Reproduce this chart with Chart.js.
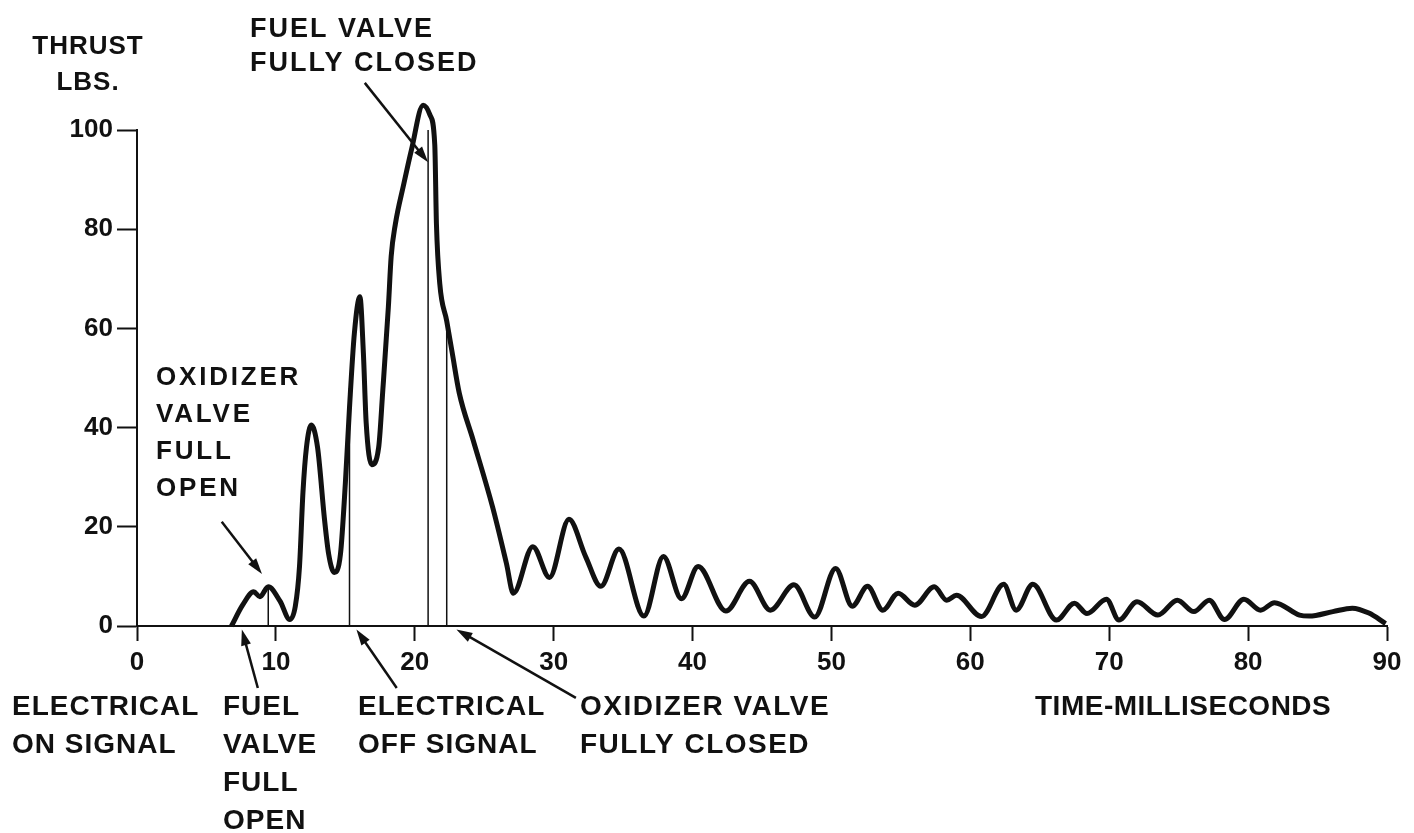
<!DOCTYPE html>
<html>
<head>
<meta charset="utf-8">
<script src="https://cdn.jsdelivr.net/npm/chart.js@4/dist/chart.umd.min.js"></script>
<style>
	body { margin: 0; background: #fff; }
	canvas { display: block; }
</style>
</head>
<body>
<canvas id="thrustChart" width="1414" height="833"></canvas>
<script>
// time (ms)
const times = [
	6.8, 7.6, 8.4, 8.85, 9.45, 10.3, 11.0, 11.4, 11.7, 11.95, 12.2, 12.55, 13.0, 13.5, 13.8, 14.2,
	14.65, 15.0, 15.3, 15.65, 16.05, 16.3, 16.5, 16.9, 17.4, 17.7, 18.1, 18.3, 18.6, 19.2, 19.76,
	20.6, 21.1, 21.44, 21.56, 21.8, 22.3, 22.7, 23.2, 24.2, 25.6, 26.6, 27.1, 28.5, 29.7, 31.1, 32.3,
	33.4, 34.7, 36.5, 37.9, 39.2, 40.4, 42.4, 44.1, 45.6, 47.3, 48.8, 50.3, 51.5, 52.6, 53.7,
	54.8, 56.0, 57.4, 58.3, 59.0, 60.8, 62.4, 63.3, 64.5, 66.2, 67.5, 68.4, 69.8, 70.7, 72.0,
	73.5, 74.9, 76.1, 77.2, 78.3, 79.7, 80.9, 81.9, 83.7, 84.4, 86.1, 87.5, 88.7, 89.9,
];
// thrust (lbs)
const thrust = [
	0, 4.2, 6.9, 5.9, 7.9, 5.0, 1.3, 4, 12, 27, 36, 40.5, 36, 21.5, 14.5, 10.8,
	14.5, 28.7, 44, 59, 66.4, 55, 41, 32.5, 36, 47.6, 64.4, 74.5, 81, 89, 96,
	105, 103, 97, 81, 69, 61.5, 55, 47, 37.5, 24, 12.6, 6.6, 16, 9.8, 21.5, 14,
	8, 15.5, 2, 14, 5.5, 12, 3, 9, 3.2, 8.3, 1.8, 11.6, 4, 8, 3.2,
	6.6, 4.2, 7.9, 5.2, 6.2, 1.9, 8.4, 3.2, 8.4, 1.2, 4.6, 2.5, 5.4, 1.2, 4.9,
	2.2, 5.2, 2.9, 5.2, 1.3, 5.4, 3.2, 4.7, 2.2, 2.0, 2.9, 3.6, 2.6, 0.5,
];
// event lines (ms) and where they meet the curve
const markerTimes = [9.45, 15.3, 20.96, 22.3];
const markerTops = [7.9, 48, 100, 61.5];

// arrows: [tail t, tail v, tip t, tip v]
const arrows = [
	[6.1, 21, 9.0, 10.5],
	[16.4, 109.5, 20.96, 93.5],
	[8.7, -12.5, 7.55, -0.7],
	[18.7, -12.5, 15.8, -0.7],
	[31.6, -14.5, 23.0, -0.7],
];

// text blocks: lines, x, first line y, line step, size, letter spacing
const labels = [
	{ lines: ["THRUST", "LBS."], x: 88, y: 47, step: 36, size: 26, align: "center", spacing: 1 },
	{ lines: ["FUEL VALVE", "FULLY CLOSED"], x: 250, y: 30, step: 34, size: 27, align: "left", spacing: 2 },
	{ lines: ["OXIDIZER", "VALVE", "FULL", "OPEN"], x: 156, y: 378, step: 37, size: 26, align: "left", spacing: 2.8 },
	{ lines: ["ELECTRICAL", "ON SIGNAL"], x: 12, y: 707, step: 38, size: 28, align: "left", spacing: 1 },
	{ lines: ["FUEL", "VALVE", "FULL", "OPEN"], x: 223, y: 707, step: 38, size: 28, align: "left", spacing: 1 },
	{ lines: ["ELECTRICAL", "OFF SIGNAL"], x: 358, y: 707, step: 38, size: 28, align: "left", spacing: 1 },
	{ lines: ["OXIDIZER VALVE", "FULLY CLOSED"], x: 580, y: 707, step: 38, size: 28, align: "left", spacing: 1.5 },
	{ lines: ["TIME-MILLISECONDS"], x: 1035, y: 707, step: 38, size: 28, align: "left", spacing: 0.5 },
];

const ink = "#111";
const fontFamily = '"Liberation Sans", Arial, sans-serif';

// arrows and labels
const notesPlugin = {
	id: "notes",
	afterDraw(chart) {
		const ctx = chart.ctx;
		const xs = chart.scales.x;
		const ys = chart.scales.y;
		ctx.save();
		ctx.strokeStyle = ink;
		ctx.fillStyle = ink;
		ctx.lineWidth = 2.5;
		arrows.forEach((a) => {
			let x1 = xs.getPixelForValue(a[0]);
			let y1 = ys.getPixelForValue(a[1]);
			let x2 = xs.getPixelForValue(a[2]);
			let y2 = ys.getPixelForValue(a[3]);
			let ang = Math.atan2(y2 - y1, x2 - x1);
			let c = Math.cos(ang);
			let s = Math.sin(ang);
			ctx.beginPath();
			ctx.moveTo(x1, y1);
			ctx.lineTo(x2 - 10 * c, y2 - 10 * s);
			ctx.stroke();
			ctx.beginPath();
			ctx.moveTo(x2, y2);
			ctx.lineTo(x2 - 16 * c + 5 * s, y2 - 16 * s - 5 * c);
			ctx.lineTo(x2 - 16 * c - 5 * s, y2 - 16 * s + 5 * c);
			ctx.closePath();
			ctx.fill();
		});
		ctx.textBaseline = "middle";
		labels.forEach((l) => {
			ctx.font = "bold " + l.size + "px " + fontFamily;
			ctx.textAlign = l.align;
			ctx.letterSpacing = l.spacing + "px";
			l.lines.forEach((line, i) => {
				ctx.fillText(line, l.x, l.y + i * l.step);
			});
		});
		ctx.restore();
	},
};

function buildDatasets() {
	let sets = [
		{
			data: times.map((t, i) => ({ x: t, y: thrust[i] })),
			borderColor: ink,
			borderWidth: 5,
			pointRadius: 0,
			cubicInterpolationMode: "monotone",
			clip: false,
		},
	];
	markerTimes.forEach((t, i) => {
		sets.push({
			data: [{ x: t, y: 0 }, { x: t, y: markerTops[i] }],
			borderColor: ink,
			borderWidth: 1.5,
			pointRadius: 0,
			clip: false,
		});
	});
	return sets;
}

const tickFont = { family: fontFamily, size: 26, weight: "bold" };

new Chart(document.getElementById("thrustChart").getContext("2d"), {
	type: "line",
	data: { datasets: buildDatasets() },
	plugins: [notesPlugin],
	options: {
		responsive: false,
		animation: false,
		layout: { padding: { left: 0, top: 130, right: 27, bottom: 157 } },
		plugins: { legend: { display: false }, tooltip: { enabled: false } },
		scales: {
			x: {
				type: "linear",
				min: 0,
				max: 90,
				ticks: { stepSize: 10, color: ink, font: tickFont, padding: 6, maxRotation: 0 },
				grid: { drawOnChartArea: false, tickLength: 15, tickColor: ink, tickWidth: 2 },
				border: { color: ink, width: 2 },
				afterFit: (scale) => { scale.height = 50; },
			},
			y: {
				min: 0,
				max: 100,
				ticks: { stepSize: 20, color: ink, font: tickFont, padding: 4 },
				grid: { drawOnChartArea: false, tickLength: 20, tickColor: ink, tickWidth: 2 },
				border: { color: ink, width: 2 },
				afterFit: (scale) => { scale.width = 137; },
			},
		},
	},
});
</script>
</body>
</html>
